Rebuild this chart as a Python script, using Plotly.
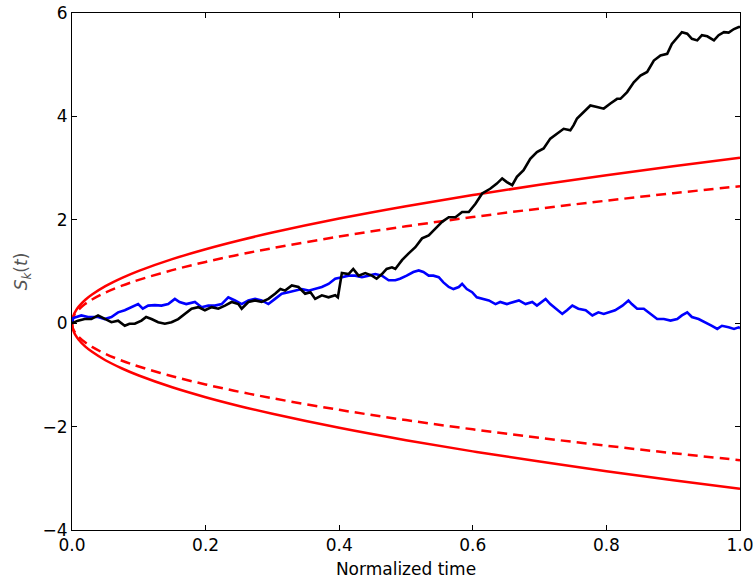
import plotly.graph_objects as go

# Boundary curves
bound_t = [0.0, 0.001, 0.003, 0.005, 0.01, 0.02, 0.03, 0.05, 0.075, 0.1, 0.15, 0.2, 0.25,
           0.3, 0.4, 0.5, 0.6, 0.7, 0.8, 0.9, 1.0]
solid_upper = [0.0, 0.101, 0.175, 0.226, 0.32, 0.453, 0.554, 0.716, 0.876, 1.012, 1.239, 1.431,
               1.6, 1.753, 2.024, 2.263, 2.479, 2.677, 2.862, 3.036, 3.2]
dashed_upper = [0.0, 0.084, 0.145, 0.187, 0.265, 0.375, 0.459, 0.593, 0.726, 0.838, 1.026, 1.185,
                1.325, 1.451, 1.676, 1.874, 2.053, 2.217, 2.37, 2.514, 2.65]
solid_lower = [-v for v in solid_upper]
dashed_lower = [-v for v in dashed_upper]

# Blue path
blue_t = [0.0, 0.002, 0.014, 0.024, 0.039, 0.049, 0.059, 0.069, 0.079, 0.089, 0.099, 0.106, 0.114,
          0.124, 0.134, 0.144, 0.154, 0.161, 0.171, 0.184, 0.194, 0.204, 0.214, 0.224, 0.234,
          0.244, 0.254, 0.264, 0.274, 0.284, 0.294, 0.304, 0.314, 0.324, 0.334, 0.344, 0.354,
          0.364, 0.374, 0.384, 0.394, 0.404, 0.414, 0.424, 0.434, 0.444, 0.454, 0.464, 0.474,
          0.484, 0.491, 0.501, 0.511, 0.519, 0.526, 0.534, 0.541, 0.549, 0.556, 0.564, 0.571,
          0.579, 0.584, 0.591, 0.599, 0.606, 0.614, 0.624, 0.634, 0.641, 0.651, 0.661, 0.669,
          0.679, 0.689, 0.696, 0.704, 0.709, 0.716, 0.724, 0.734, 0.741, 0.749, 0.758, 0.769,
          0.779, 0.788, 0.796, 0.803, 0.813, 0.824, 0.833, 0.838, 0.846, 0.856, 0.866, 0.876,
          0.886, 0.896, 0.906, 0.913, 0.921, 0.928, 0.938, 0.948, 0.958, 0.966, 0.973, 0.983,
          0.991, 0.998, 1.0]
blue_v = [0.0, 0.10, 0.15, 0.12, 0.12, 0.08, 0.12, 0.21, 0.25, 0.31, 0.37, 0.28, 0.34,
          0.35, 0.34, 0.37, 0.47, 0.41, 0.37, 0.41, 0.31, 0.34, 0.34, 0.37, 0.50,
          0.44, 0.37, 0.44, 0.47, 0.44, 0.37, 0.47, 0.57, 0.60, 0.63, 0.66, 0.63,
          0.66, 0.70, 0.76, 0.86, 0.89, 0.92, 0.92, 0.89, 0.92, 0.95, 0.92, 0.83,
          0.83, 0.86, 0.92, 0.99, 1.02, 0.99, 0.92, 0.92, 0.89, 0.79, 0.70, 0.66,
          0.70, 0.76, 0.66, 0.60, 0.50, 0.47, 0.44, 0.37, 0.41, 0.37, 0.41, 0.44,
          0.37, 0.41, 0.34, 0.41, 0.47, 0.37, 0.28, 0.18, 0.25, 0.34, 0.28, 0.25,
          0.15, 0.21, 0.18, 0.21, 0.25, 0.34, 0.44, 0.37, 0.28, 0.28, 0.18, 0.08,
          0.08, 0.05, 0.08, 0.15, 0.21, 0.12, 0.08, 0.02, -0.05, -0.11, -0.05, -0.08,
          -0.11, -0.08, -0.10]

# Black path
black_t = [0.0, 0.009, 0.019, 0.029, 0.039, 0.049, 0.059, 0.069, 0.079, 0.086, 0.094, 0.104,
           0.111, 0.119, 0.129, 0.139, 0.149, 0.159, 0.169, 0.179, 0.189, 0.199, 0.209, 0.219,
           0.229, 0.239, 0.249, 0.254, 0.264, 0.274, 0.284, 0.294, 0.304, 0.312, 0.319, 0.329,
           0.339, 0.349, 0.357, 0.364, 0.374, 0.384, 0.394, 0.398, 0.404, 0.414, 0.421, 0.429,
           0.439, 0.449, 0.456, 0.464, 0.471, 0.479, 0.484, 0.494, 0.504, 0.514, 0.524, 0.534,
           0.544, 0.554, 0.564, 0.574, 0.584, 0.594, 0.604, 0.614, 0.626, 0.636, 0.644, 0.651,
           0.659, 0.666, 0.676, 0.686, 0.696, 0.706, 0.716, 0.726, 0.736, 0.746, 0.751, 0.756,
           0.766, 0.776, 0.786, 0.796, 0.806, 0.816, 0.821, 0.831, 0.841, 0.851, 0.861, 0.871,
           0.881, 0.891, 0.898, 0.906, 0.913, 0.921, 0.928, 0.936, 0.943, 0.951, 0.961, 0.968,
           0.976, 0.983, 0.991, 0.998, 1.0]
black_v = [0.0, 0.05, 0.08, 0.08, 0.15, 0.08, 0.02, 0.05, -0.05, -0.01, -0.01, 0.05,
           0.12, 0.08, 0.02, -0.01, 0.02, 0.08, 0.18, 0.28, 0.31, 0.25, 0.31, 0.28,
           0.34, 0.41, 0.37, 0.28, 0.41, 0.44, 0.41, 0.47, 0.57, 0.66, 0.63, 0.73,
           0.70, 0.57, 0.60, 0.47, 0.54, 0.50, 0.54, 0.50, 0.97, 0.95, 1.05, 0.92,
           0.97, 0.92, 0.86, 0.95, 1.05, 1.08, 1.05, 1.22, 1.35, 1.47, 1.64, 1.70,
           1.83, 1.96, 2.05, 2.05, 2.15, 2.15, 2.31, 2.51, 2.60, 2.70, 2.80, 2.73,
           2.67, 2.83, 2.96, 3.18, 3.31, 3.38, 3.57, 3.67, 3.76, 3.73, 3.83, 3.96,
           4.08, 4.21, 4.18, 4.15, 4.25, 4.34, 4.34, 4.47, 4.66, 4.79, 4.86, 5.08,
           5.18, 5.21, 5.40, 5.53, 5.63, 5.60, 5.50, 5.47, 5.57, 5.55, 5.47, 5.57,
           5.63, 5.62, 5.69, 5.73, 5.73]

x_ticks = [0.0, 0.2, 0.4, 0.6, 0.8, 1.0]
x_tick_labels = ["0.0", "0.2", "0.4", "0.6", "0.8", "1.0"]
y_ticks = [-4, -2, 0, 2, 4, 6]

RED = "#ff0000"
fig = go.Figure()
for vals, dash in [(solid_upper, "solid"), (solid_lower, "solid"),
                   (dashed_upper, "10px,6px"), (dashed_lower, "10px,6px")]:
    fig.add_trace(go.Scatter(x=bound_t, y=vals, mode="lines", line_shape="spline",
                             line=dict(color=RED, width=2.5, dash=dash), showlegend=False))
fig.add_trace(go.Scatter(x=blue_t, y=blue_v, mode="lines",
                         line=dict(color="#0000ff", width=2.6), showlegend=False))
fig.add_trace(go.Scatter(x=black_t, y=black_v, mode="lines",
                         line=dict(color="#000000", width=2.6), showlegend=False))

axis_common = dict(showline=True, linecolor="black", linewidth=1, mirror="allticks",
                   ticks="inside", ticklen=5, tickwidth=1, tickcolor="black",
                   showgrid=False, zeroline=False, automargin=False,
                   ticklabeloverflow="allow",
                   tickfont=dict(family="DejaVu Sans", size=17, color="black"))
fig.update_xaxes(range=[0, 1], tickvals=x_ticks, ticktext=x_tick_labels,
                 title=dict(text="Normalized time",
                            font=dict(family="DejaVu Sans", size=17, color="black"),
                            standoff=8),
                 **axis_common)
fig.update_yaxes(range=[-4, 6], tickvals=y_ticks,
                 title=dict(text="<i>S<sub>k</sub></i>(<i>t</i>)",
                            font=dict(family="DejaVu Sans", size=17, color="#555555"),
                            standoff=10),
                 **axis_common)
fig.update_layout(width=753, height=581, margin=dict(l=72, r=13, t=13, b=51),
                  plot_bgcolor="white", paper_bgcolor="white")
# remove the page's default body margin so the figure fills the window
fig.write_html("out.html", config={"displayModeBar": False},
               post_script="document.body.style.margin='0px';document.body.style.overflow='hidden';")
